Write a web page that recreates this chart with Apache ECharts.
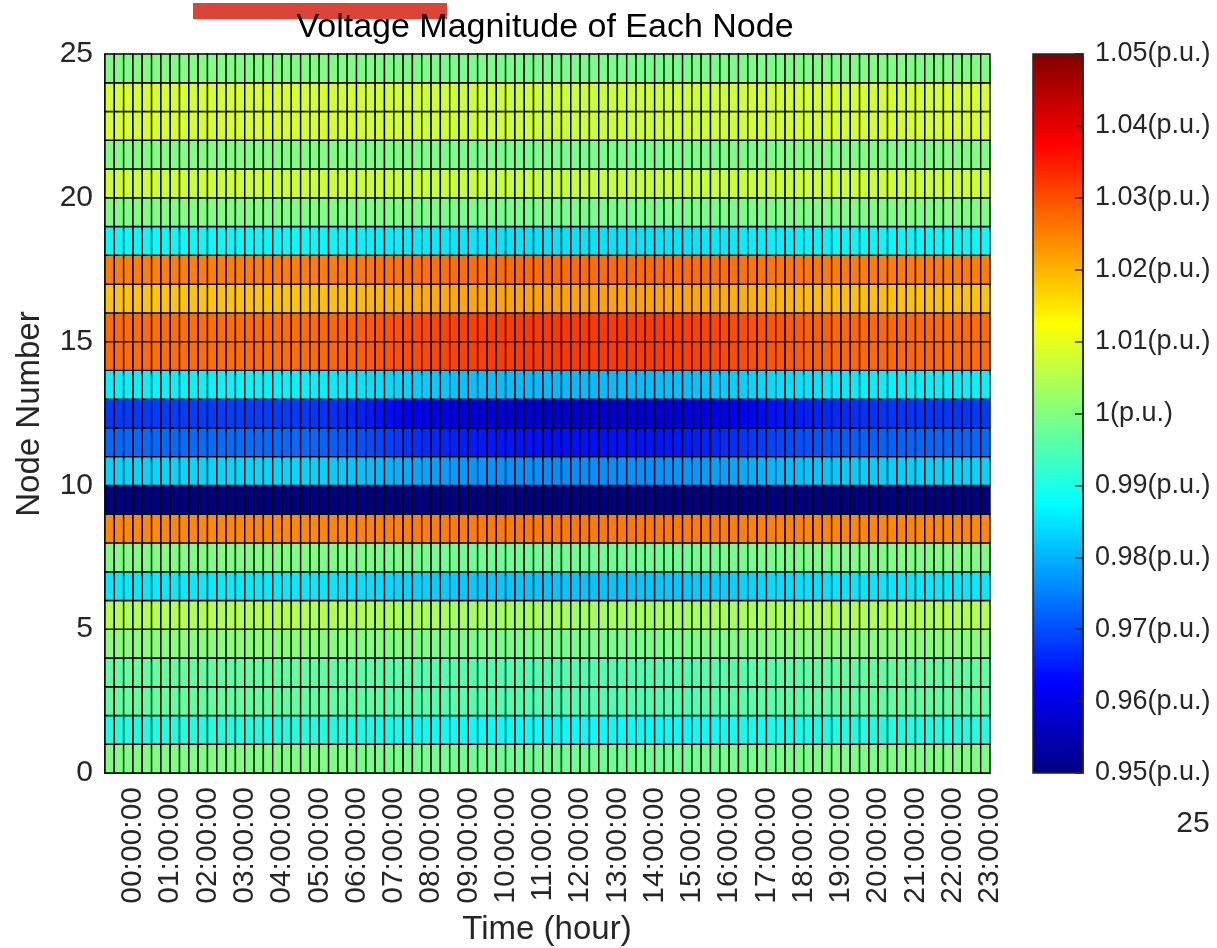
<!DOCTYPE html>
<html>
<head>
<meta charset="utf-8">
<script src="https://cdn.jsdelivr.net/npm/echarts@6/dist/echarts.min.js"></script>
<style>
  html, body { margin: 0; padding: 0; background: #fff; }
  #main { width: 1217px; height: 948px; }
</style>
</head>
<body>
<div id="main"></div>
<script type="text/javascript">
// x 轴刻度标签（每 4 个 15 分钟格一个）
var hourLabels = ['00:00:00', '01:00:00', '02:00:00', '03:00:00', '04:00:00', '05:00:00',
    '06:00:00', '07:00:00', '08:00:00', '09:00:00', '10:00:00', '11:00:00',
    '12:00:00', '13:00:00', '14:00:00', '15:00:00', '16:00:00', '17:00:00',
    '18:00:00', '19:00:00', '20:00:00', '21:00:00', '22:00:00', '23:00:00'];

// 每个时间格的负荷水平（0 = 轻载, 1 = 峰值），共 95 格
var loadLevel = [
    0.08, 0.07, 0.07, 0.06, 0.06, 0.05, 0.05, 0.05, 0.04, 0.04, 0.04, 0.04,
    0.03, 0.03, 0.03, 0.03, 0.03, 0.04, 0.04, 0.05, 0.06, 0.08, 0.10, 0.13,
    0.17, 0.21, 0.26, 0.31, 0.37, 0.43, 0.49, 0.55, 0.61, 0.66, 0.71, 0.75,
    0.79, 0.82, 0.85, 0.88, 0.90, 0.92, 0.94, 0.95, 0.96, 0.97, 0.98, 0.99,
    1.00, 1.00, 1.00, 0.99, 0.99, 0.98, 0.98, 0.97, 0.97, 0.96, 0.95, 0.94,
    0.92, 0.90, 0.87, 0.84, 0.80, 0.76, 0.71, 0.66, 0.61, 0.56, 0.51, 0.46,
    0.42, 0.38, 0.34, 0.30, 0.27, 0.24, 0.21, 0.19, 0.17, 0.15, 0.14, 0.13,
    0.12, 0.11, 0.11, 0.10, 0.10, 0.10, 0.09, 0.09, 0.09, 0.08, 0.08
];

// 各节点（行 0..24）轻载与峰值时的电压幅值 (p.u.)
var voltLight = [1.000, 0.9905, 0.997, 0.997, 1.001, 1.005, 0.986, 1.000, 1.024, 0.949,
    0.984, 0.9735, 0.969, 0.987, 1.0265, 1.0265, 1.018, 1.025, 0.9875, 1.000,
    1.0078, 1.000, 1.0087, 1.0087, 1.000];
var voltPeak = [0.998, 0.9875, 0.995, 0.995, 0.999, 1.0035, 0.982, 0.998, 1.0255, 0.948,
    0.9765, 0.964, 0.958, 0.981, 1.032, 1.032, 1.0215, 1.027, 0.985, 0.999,
    1.007, 0.999, 1.0077, 1.0077, 0.999];

// 色带刻度
var barTicks = [0.95, 0.96, 0.97, 0.98, 0.99, 1.00, 1.01, 1.02, 1.03, 1.04, 1.05];

// jet 色表
var jet = ['#000080', '#0000ff', '#0080ff', '#00ffff', '#80ff80', '#ffff00', '#ff8000', '#ff0000', '#800000'];

var cells = [];
for (var r = 0; r < voltLight.length; r++) {
    for (var c = 0; c < loadLevel.length; c++) {
        var v = voltLight[r] + (voltPeak[r] - voltLight[r]) * loadLevel[c];
        cells.push([c, r, v]);
    }
}

var tickPos = hourLabels.map(function (_, i) { return 4 * i + 3; });

var chart = echarts.init(document.getElementById('main'));
var font = "'Liberation Sans', Arial, Helvetica, sans-serif";

chart.setOption({
    animation: false,
    textStyle: { fontFamily: font },
    grid: [
        { left: 105, right: 227, top: 54, bottom: 175 },
        {
            left: 1033, width: 50, top: 54, bottom: 175, show: true,
            borderColor: '#262626', borderWidth: 1.5,
            backgroundColor: new echarts.graphic.LinearGradient(0, 0, 0, 1,
                jet.slice().reverse().map(function (col, i) { return { offset: i / 8, color: col }; }))
        }
    ],
    xAxis: [
        {
            type: 'value', gridIndex: 0, min: 0, max: loadLevel.length,
            axisLine: { show: true, onZero: false, lineStyle: { color: '#000', width: 1.5 } },
            axisTick: { show: false },
            splitLine: { show: false },
            axisLabel: {
                customValues: tickPos,
                rotate: 90, margin: 14, fontSize: 30, color: '#262626', fontFamily: font,
                formatter: function (val) { return hourLabels[Math.round((val - 3) / 4)]; }
            }
        },
        { type: 'value', gridIndex: 1, min: 0, max: 1, show: false }
    ],
    yAxis: [
        {
            type: 'value', gridIndex: 0, min: 0, max: 25, interval: 5,
            axisLine: { show: true, onZero: false, lineStyle: { color: '#000', width: 1.5 } },
            axisTick: { show: false },
            splitLine: { show: false },
            axisLabel: { margin: 12, fontSize: 30, color: '#262626', fontFamily: font }
        },
        {
            type: 'value', gridIndex: 1, min: 0.95, max: 1.05, position: 'right',
            axisLabel: {
                customValues: barTicks,
                margin: 12, fontSize: 27, color: '#262626', fontFamily: font,
                formatter: function (val) { return parseFloat(val.toFixed(2)) + '(p.u.)'; }
            },
            axisTick: { customValues: barTicks, inside: true, length: 8, lineStyle: { color: '#262626', width: 1.5 } },
            axisLine: { show: true, onZero: false, lineStyle: { color: '#262626', width: 1.5 } },
            splitLine: { show: false }
        }
    ],
    visualMap: {
        show: false, type: 'continuous', min: 0.95, max: 1.05,
        dimension: 2, seriesIndex: 0, inRange: { color: jet }
    },
    series: [{
        type: 'custom',
        xAxisIndex: 0, yAxisIndex: 0,
        data: cells,
        encode: { x: 0, y: 1 },
        renderItem: function (params, api) {
            var p0 = api.coord([api.value(0), api.value(1) + 1]);
            var p1 = api.coord([api.value(0) + 1, api.value(1)]);
            return {
                type: 'rect',
                shape: { x: p0[0], y: p0[1], width: p1[0] - p0[0], height: p1[1] - p0[1] },
                style: { fill: api.visual('color'), stroke: '#000', lineWidth: 1.4 }
            };
        }
    }],
    graphic: [
        { type: 'rect', shape: { x: 193, y: 3, width: 254, height: 16 }, style: { fill: '#db4437' }, z: 10 },
        {
            type: 'text', x: 545, y: 28, z: 11,
            style: { text: 'Voltage Magnitude of Each Node', fontSize: 34, fontFamily: font, fill: '#000', align: 'center', verticalAlign: 'middle' }
        },
        {
            type: 'text', x: 30, y: 414, rotation: Math.PI / 2,
            style: { text: 'Node Number', fontSize: 33, fontFamily: font, fill: '#262626', align: 'center', verticalAlign: 'middle' }
        },
        {
            type: 'text', x: 547, y: 930,
            style: { text: 'Time (hour)', fontSize: 33, fontFamily: font, fill: '#262626', align: 'center', verticalAlign: 'middle' }
        },
        {
            type: 'text', x: 1193, y: 824,
            style: { text: '25', fontSize: 30, fontFamily: font, fill: '#262626', align: 'center', verticalAlign: 'middle' }
        }
    ]
});
</script>
</body>
</html>
